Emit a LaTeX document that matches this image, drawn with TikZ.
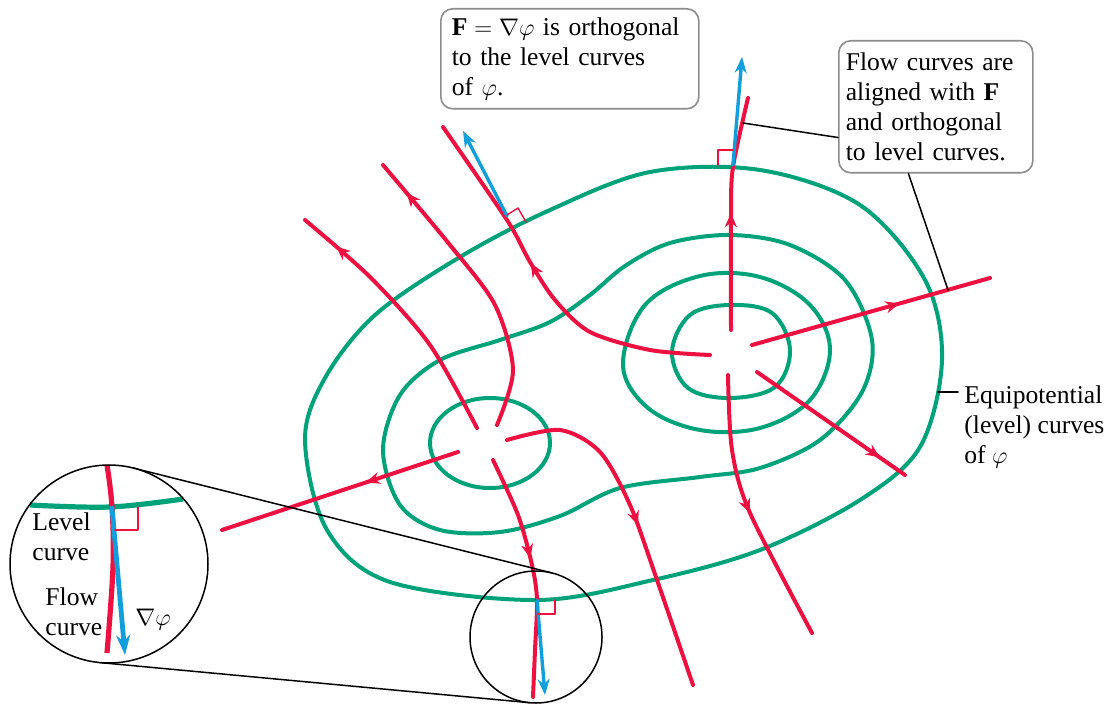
\documentclass[tikz,border=0pt]{standalone}
\usepackage{fontspec}
\setmainfont{Liberation Serif}
\usetikzlibrary{arrows.meta,decorations.markings,calc}
\definecolor{levelgreen}{RGB}{0,162,122}
\definecolor{flowred}{RGB}{238,16,64}
\definecolor{gradblue}{RGB}{18,158,218}
\definecolor{boxgray}{RGB}{140,140,140}
\begin{document}
\begin{tikzpicture}[x=0.5pt, y=-0.5pt, font=\fontsize{12.8}{15}\selectfont, line join=round, line cap=round,
		level/.style={levelgreen, line width=2pt},
		flow/.style={flowred, line width=2pt},
		grad/.style={gradblue, line width=1.7pt, -{Stealth[length=8pt,width=6pt]}},
		rangle/.style={flowred, line width=0.7pt},
		callout/.style={black, line width=0.75pt},
		infobox/.style={draw=boxgray, line width=0.8pt, rounded corners=6pt, align=left, fill=white},
		midarrow/.style={postaction={decorate, decoration={markings, mark=at position #1 with {\arrow{Stealth[length=7pt,width=6pt]}}}}}]
	\def \rbig{99}
	\def \rsmall{66}
	\useasboundingbox (0,0) rectangle (1112,705);
	% --- level curves
	\draw[level] plot[smooth cycle, tension=0.55] coordinates {(305,440) (327,530) (390,582) (537,600) (653,580) (760,550) (860,500) (920,447) (942,360) (925,280) (860,205) (760,170) (650,172) (550,210) (460,257) (375,315) (325,378)};
	\draw[level] plot[smooth cycle, tension=0.55] coordinates {(383,450) (400,505) (440,530) (500,532) (560,516) (620,488) (700,477) (760,468) (820,440) (862,392) (872,340) (845,280) (790,245) (730,235) (670,243) (625,266) (590,295) (550,322) (500,340) (440,360) (400,395)};
	\draw[level] plot[smooth cycle, tension=0.6] coordinates {(623,365) (645,305) (700,276) (760,277) (810,305) (830,350) (810,400) (760,428) (700,430) (648,408)};
	\draw[level] plot[smooth cycle, tension=0.6] coordinates {(672,352) (690,315) (730,305) (772,313) (790,350) (775,387) (730,398) (688,388)};
	\draw[level] (490,443) ellipse [x radius=60, y radius=45];
	% --- flow curves, right centre
	\draw[flow, midarrow=0.5] plot[smooth, tension=0.5] coordinates {(731,330) (731,215) (733,167) (748,98)};
	\draw[flow, midarrow=0.57] plot[smooth, tension=0.5] coordinates {(710,355) (650,350) (590,332) (555,300) (530,262) (507,220) (443,127)};
	\draw[flow, midarrow=0.62] (752,345) -- (990,278);
	\draw[flow, midarrow=0.83] (757,372) -- (905,475);
	\draw[flow, midarrow=0.51] plot[smooth, tension=0.5] coordinates {(728,375) (732,450) (750,513) (812,633)};
	% --- flow curves, left centre
	\draw[flow, midarrow=0.85] plot[smooth, tension=0.5] coordinates {(477,428) (430,345) (370,277) (305,220)};
	\draw[flow, midarrow=0.88] plot[smooth, tension=0.5] coordinates {(497,425) (513,370) (495,305) (450,245) (383,165)};
	\draw[flow, midarrow=0.52] plot[smooth, tension=0.5] coordinates {(507,440) (560,430) (600,452) (630,505) (657,580) (693,685)};
	\draw[flow, midarrow=0.43] plot[smooth, tension=0.5] coordinates {(493,460) (518,515) (532,565) (537,600) (535,650) (533,697)};
	\draw[flow, midarrow=0.39] (458,452) -- (222,530);
	% --- gradient vectors and right angles
	\draw[grad] (507,216) -- (463,131);
	\draw[rangle] (507,215) -- (518,208) -- (526,222);
	\draw[grad] (733,165) -- (742,57);
	\draw[rangle] (718,165) -- (718,150) -- (733,150);
	\draw[grad] (537,600) -- (545,695);
	\draw[rangle] (538,614) -- (555,614) -- (555,600);
	% --- magnifier
	\coordinate (bigc) at (109,564);
	\coordinate (smallc) at (536,637);
	\draw[callout] (smallc) circle (\rsmall);
	\draw[callout] ($(bigc)+(-75.9:\rbig)$) -- ($(smallc)+(-75.9:\rsmall)$);
	\draw[callout] ($(bigc)+(95.3:\rbig)$) -- ($(smallc)+(95.3:\rsmall)$);
	\fill[white] (bigc) circle (\rbig);
	\draw[levelgreen, line width=2.6pt, line cap=butt] plot[smooth, tension=0.6] coordinates {(30,505) (110,507) (183,499)};
	\draw[flowred, line width=2.6pt, line cap=butt] plot[smooth, tension=0.6] coordinates {(107,465) (112,507) (113,567) (107,653)};
	\draw[gradblue, line width=2.4pt, -{Stealth[length=10pt,width=7pt]}] (112,508) -- (125,655);
	\draw[rangle] (115,530) -- (138,530) -- (138,507);
	\draw[callout] (bigc) circle (\rbig);
	\node[anchor=north west, align=left, inner sep=0pt] (levellbl) at (32,512) {Level\\curve};
	\node[anchor=north west, align=left, inner sep=0pt] (flowlbl) at (45,587) {Flow\\curve};
	\node[anchor=base west, inner sep=0pt] (gradlbl) at (135,625) {$\nabla\varphi$};
	% --- labels
	\node[infobox, anchor=north west, text width=118pt, inner xsep=5.5pt, minimum height=50pt] (gradbox) at (440,8) {$\textbf{F}=\nabla\varphi$ is orthogonal\\to the level curves\\of $\varphi$.};
	\node[infobox, anchor=north west, text width=90pt, inner xsep=3.5pt, minimum height=66pt] (flowbox) at (838,40) {Flow curves are\\aligned with \textbf{F}\\and orthogonal\\to level curves.};
	\coordinate (fa) at (743,123);
	\coordinate (fc) at (948,290);
	\draw[callout] ($(flowbox.south west)!0.27!(flowbox.north west)$) -- (fa);
	\draw[callout] ($(flowbox.south west)!0.36!(flowbox.south east)$) -- (fc);
	\node[anchor=north west, align=left, inner sep=0pt] (eqlabel) at (964,385) {Equipotential\\(level) curves\\of $\varphi$};
	\coordinate (eqpt) at (938,392);
	\draw[callout, shorten >=3pt] (eqpt) -- (eqpt -| eqlabel.west);
\end{tikzpicture}
\end{document}
